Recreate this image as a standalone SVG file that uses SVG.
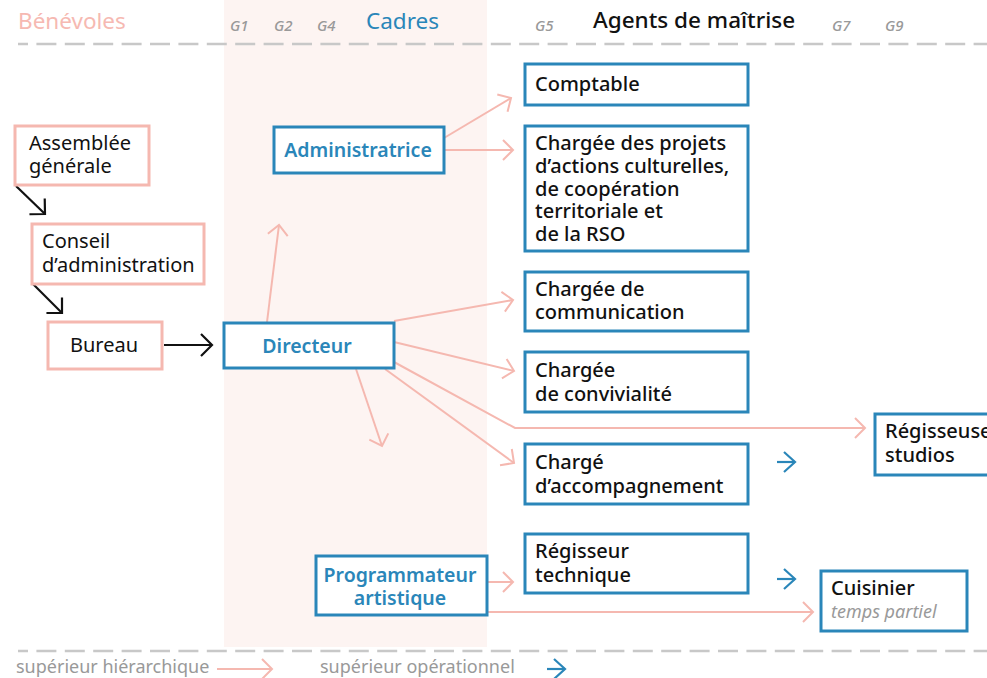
<svg xmlns="http://www.w3.org/2000/svg" width="987" height="678" viewBox="0 0 987 678">
  <defs>
    <marker id="arrBlack" markerUnits="userSpaceOnUse" viewBox="-14 -14 16 28" refX="0" refY="0" markerWidth="16" markerHeight="28" orient="auto" overflow="visible">
      <path d="M-11,-11 L0,0 L-11,11" fill="none" stroke="#111" stroke-width="2.2"/>
    </marker>
    <marker id="arrPink" markerUnits="userSpaceOnUse" viewBox="-14 -14 16 28" refX="0" refY="0" markerWidth="16" markerHeight="28" orient="auto" overflow="visible">
      <path d="M-10,-10 L0,0 L-10,10" fill="none" stroke="#f5b8b0" stroke-width="2"/>
    </marker>
    <marker id="arrBlue" markerUnits="userSpaceOnUse" viewBox="-14 -14 16 28" refX="0" refY="0" markerWidth="16" markerHeight="28" orient="auto" overflow="visible">
      <path d="M-11,-10 L0,0 L-11,10" fill="none" stroke="#2a86b9" stroke-width="2.2"/>
    </marker>
  </defs>
  <style>
    text { font-family: "Noto Sans", "Open Sans", sans-serif; }
    .hdr { font-size: 22.5px; }
    .grade { font-size: 15px; font-style: italic; fill: #999; font-weight: 500; }
    .pinkbox { fill: #fff; stroke: #f5b8b0; stroke-width: 3; }
    .bluebox { fill: #fff; stroke: #2a86b9; stroke-width: 3; }
    .lbl { font-size: 20px; fill: #111; }
    .lblm { font-size: 20px; fill: #111; font-weight: 500; }
    .lblb { font-size: 19.5px; fill: #2a86b9; font-weight: 600; text-anchor: middle; }
    .sub { font-size: 18px; fill: #999; font-style: italic; }
    .leg { font-size: 18px; fill: #999; }
    .dash { stroke: #c8c8c8; stroke-width: 2.6; stroke-dasharray: 20 8.4; stroke-dashoffset: 10; fill: none; }
    .cb { stroke: #111; stroke-width: 2.2; fill: none; marker-end: url(#arrBlack); }
    .cp { stroke: #f5b8b0; stroke-width: 2; fill: none; marker-end: url(#arrPink); }
    .co { stroke: #2a86b9; stroke-width: 2.2; fill: none; marker-end: url(#arrBlue); }
  </style>

  <rect x="0" y="0" width="987" height="678" fill="#fff"/>
  <rect id="band-cadres" x="224" y="0" width="263" height="647" fill="#fdf4f2"/>

  <g id="headers">
    <text class="hdr" x="18" y="29" fill="#f6b9b2">Bénévoles</text>
    <text class="grade" x="230" y="31">G1</text>
    <text class="grade" x="274" y="31">G2</text>
    <text class="grade" x="317" y="31">G4</text>
    <text class="hdr" x="366" y="29" fill="#2a86b9">Cadres</text>
    <text class="grade" x="535" y="31">G5</text>
    <text class="hdr" x="593" y="28" fill="#111" font-weight="500">Agents de maîtrise</text>
    <text class="grade" x="832" y="31">G7</text>
    <text class="grade" x="885" y="31">G9</text>
  </g>
  <line class="dash" x1="18" y1="44" x2="987" y2="44"/>
  <line class="dash" x1="18" y1="651" x2="987" y2="651"/>

  <g id="connectors">
    <line class="cb" x1="16" y1="186" x2="45" y2="214"/>
    <line class="cb" x1="33" y1="284" x2="62" y2="313"/>
    <line class="cb" x1="164" y1="345" x2="212" y2="345"/>
    <line class="cp" x1="444" y1="138" x2="511" y2="98"/>
    <line class="cp" x1="444" y1="150" x2="513" y2="150"/>
    <line class="cp" x1="267" y1="322" x2="279" y2="225"/>
    <line class="cp" x1="394" y1="321" x2="513" y2="300"/>
    <line class="cp" x1="394" y1="342" x2="514" y2="371"/>
    <polyline class="cp" points="394,362 515,428 865,428"/>
    <line class="cp" x1="385" y1="369" x2="514" y2="463"/>
    <line class="cp" x1="356" y1="369" x2="382" y2="446"/>
    <line class="cp" x1="487" y1="582" x2="513" y2="582"/>
    <line class="cp" x1="487" y1="612" x2="813" y2="612"/>
    <line class="co" x1="777" y1="462" x2="795" y2="462"/>
    <line class="co" x1="777" y1="579" x2="795" y2="579"/>
  </g>

  <g id="n-assemblee">
    <rect class="pinkbox" x="15" y="126" width="134" height="59"/>
    <text class="lbl" x="29" y="150">Assemblée</text>
    <text class="lbl" x="29" y="173">générale</text>
  </g>
  <g id="n-conseil">
    <rect class="pinkbox" x="32" y="224" width="172" height="60"/>
    <text class="lbl" x="42" y="248">Conseil</text>
    <text class="lbl" x="42" y="272">d’administration</text>
  </g>
  <g id="n-bureau">
    <rect class="pinkbox" x="48" y="322" width="114" height="47"/>
    <text class="lbl" x="104" y="352" text-anchor="middle">Bureau</text>
  </g>
  <g id="n-administratrice">
    <rect class="bluebox" x="274" y="127" width="170" height="46"/>
    <text class="lblb" x="358" y="157">Administratrice</text>
  </g>
  <g id="n-directeur">
    <rect class="bluebox" x="224" y="323" width="170" height="45"/>
    <text class="lblb" x="307" y="353">Directeur</text>
  </g>
  <g id="n-programmateur">
    <rect class="bluebox" x="316" y="556" width="171" height="59"/>
    <text class="lblb" x="400" y="582">Programmateur</text>
    <text class="lblb" x="400" y="605">artistique</text>
  </g>
  <g id="n-comptable">
    <rect class="bluebox" x="525" y="64" width="223" height="41"/>
    <text class="lblm" x="535" y="91">Comptable</text>
  </g>
  <g id="n-projets">
    <rect class="bluebox" x="525" y="126" width="223" height="125"/>
    <text class="lblm" x="535" y="150">Chargée des projets</text>
    <text class="lblm" x="535" y="173">d’actions culturelles,</text>
    <text class="lblm" x="535" y="196">de coopération</text>
    <text class="lblm" x="535" y="218">territoriale et</text>
    <text class="lblm" x="535" y="241">de la RSO</text>
  </g>
  <g id="n-communication">
    <rect class="bluebox" x="525" y="272" width="223" height="59"/>
    <text class="lblm" x="535" y="296">Chargée de</text>
    <text class="lblm" x="535" y="319">communication</text>
  </g>
  <g id="n-convivialite">
    <rect class="bluebox" x="525" y="352" width="223" height="60"/>
    <text class="lblm" x="535" y="377">Chargée</text>
    <text class="lblm" x="535" y="401">de convivialité</text>
  </g>
  <g id="n-accompagnement">
    <rect class="bluebox" x="525" y="444" width="223" height="60"/>
    <text class="lblm" x="535" y="469">Chargé</text>
    <text class="lblm" x="535" y="493">d’accompagnement</text>
  </g>
  <g id="n-regisseur">
    <rect class="bluebox" x="525" y="534" width="223" height="59"/>
    <text class="lblm" x="535" y="558">Régisseur</text>
    <text class="lblm" x="535" y="582">technique</text>
  </g>
  <g id="n-regisseuse">
    <rect class="bluebox" x="875" y="414" width="130" height="61"/>
    <text class="lblm" x="885" y="438">Régisseuse</text>
    <text class="lblm" x="885" y="462">studios</text>
  </g>
  <g id="n-cuisinier">
    <rect class="bluebox" x="821" y="571" width="146" height="60"/>
    <text class="lblm" x="831" y="595">Cuisinier</text>
    <text class="sub" x="831" y="618">temps partiel</text>
  </g>

  <g id="legend">
    <text class="leg" x="16" y="673">supérieur hiérarchique</text>
    <line class="cp" x1="217" y1="669" x2="272" y2="669"/>
    <text class="leg" x="320" y="673">supérieur opérationnel</text>
    <line class="co" x1="547" y1="669" x2="565" y2="669"/>
  </g>
</svg>
